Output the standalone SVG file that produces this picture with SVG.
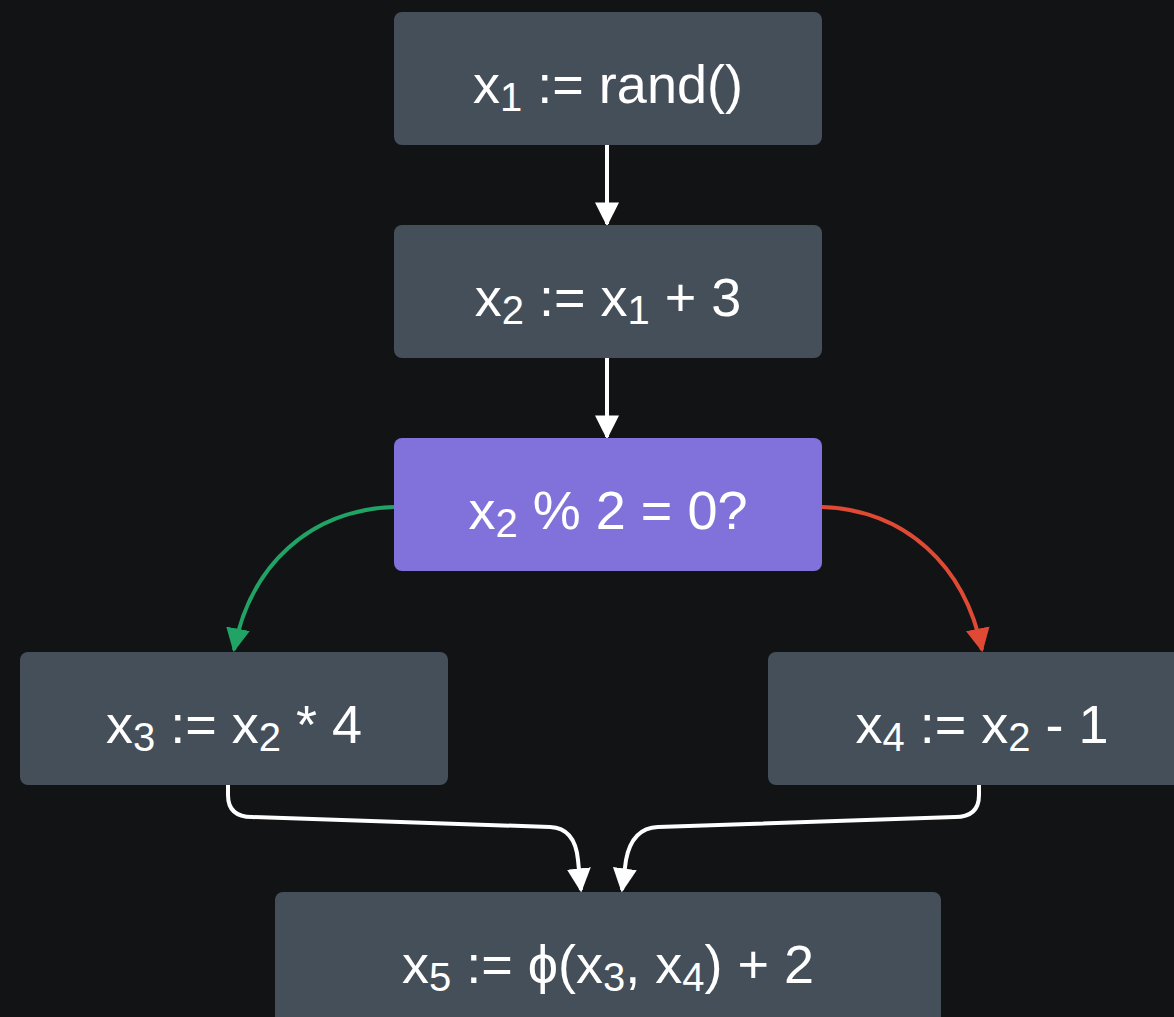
<svg xmlns="http://www.w3.org/2000/svg" width="1174" height="1017" viewBox="0 0 1174 1017">
<defs>
<style>
.box{fill:#454f5a}
.dec{fill:#8172db}
.t{font-family:"Liberation Sans",Arial,"Noto Sans",sans-serif;font-size:54px;fill:#ffffff;text-anchor:middle}
.s{font-size:40px}
.c{fill:none;stroke-width:4}
.w{stroke:#ffffff}
.g{stroke:#21a366}
.r{stroke:#e04a35}
</style>
<marker id="aw" viewBox="0 0 10 10" refX="9" refY="5" markerWidth="6" markerHeight="6" orient="auto" markerUnits="strokeWidth"><path d="M0,0 L10,5 L0,10 z" fill="#ffffff"/></marker>
<marker id="ag" viewBox="0 0 10 10" refX="9" refY="5" markerWidth="6" markerHeight="6" orient="auto" markerUnits="strokeWidth"><path d="M0,0 L10,5 L0,10 z" fill="#21a366"/></marker>
<marker id="ar" viewBox="0 0 10 10" refX="9" refY="5" markerWidth="6" markerHeight="6" orient="auto" markerUnits="strokeWidth"><path d="M0,0 L10,5 L0,10 z" fill="#e04a35"/></marker>
</defs>
<rect width="1174" height="1017" fill="#111315"/>
<g id="connectors">
<path class="c w" d="M607,145 L607,224" marker-end="url(#aw)"/>
<path class="c w" d="M607,358 L607,437" marker-end="url(#aw)"/>
<path class="c g" d="M394,507 C310,510 250,565 234,650" marker-end="url(#ag)"/>
<path class="c r" d="M822,507 C905,510 965,565 982,650" marker-end="url(#ar)"/>
<path class="c w" d="M228,785 L228,795 Q228,817 252,817 L550,827 Q575,828 578,860 L581,890" marker-end="url(#aw)"/>
<path class="c w" d="M979,785 L979,795 Q979,817 955,817 L658,827 Q632,828 626,860 L622,890" marker-end="url(#aw)"/>
</g>
<g id="n1"><rect class="box" x="394" y="12" width="428" height="133" rx="8"/><text class="t" x="608" y="103">x<tspan class="s" dy="8">1</tspan><tspan dy="-8"> := rand()</tspan></text></g>
<g id="n2"><rect class="box" x="394" y="225" width="428" height="133" rx="8"/><text class="t" x="608" y="316">x<tspan class="s" dy="8">2</tspan><tspan dy="-8"> := x</tspan><tspan class="s" dy="8">1</tspan><tspan dy="-8"> + 3</tspan></text></g>
<g id="n3"><rect class="dec" x="394" y="438" width="428" height="133" rx="8"/><text class="t" x="608" y="529">x<tspan class="s" dy="8">2</tspan><tspan dy="-8"> % 2 = 0?</tspan></text></g>
<g id="n4"><rect class="box" x="20" y="652" width="428" height="133" rx="8"/><text class="t" x="234" y="743">x<tspan class="s" dy="8">3</tspan><tspan dy="-8"> := x</tspan><tspan class="s" dy="8">2</tspan><tspan dy="-8"> * 4</tspan></text></g>
<g id="n5"><rect class="box" x="768" y="652" width="428" height="133" rx="8"/><text class="t" x="982" y="743">x<tspan class="s" dy="8">4</tspan><tspan dy="-8"> := x</tspan><tspan class="s" dy="8">2</tspan><tspan dy="-8"> - 1</tspan></text></g>
<g id="n6"><rect class="box" x="275" y="892" width="666" height="140" rx="8"/><text class="t" x="608" y="983">x<tspan class="s" dy="8">5</tspan><tspan dy="-8"> := ϕ(x</tspan><tspan class="s" dy="8">3</tspan><tspan dy="-8">, x</tspan><tspan class="s" dy="8">4</tspan><tspan dy="-8">) + 2</tspan></text></g>
</svg>
